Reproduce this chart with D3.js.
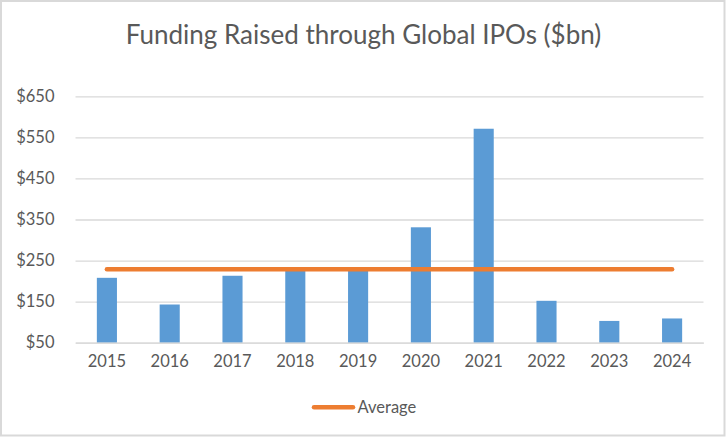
<!DOCTYPE html>
<html>
<head>
<meta charset="utf-8">
<script src="https://cdn.jsdelivr.net/npm/d3@7"></script>
<style>
  html, body { margin: 0; padding: 0; background: #fff; }
  svg { display: block; }
  text { font-family: Lato, "Open Sans", sans-serif; fill: #595959; }
</style>
</head>
<body>
<svg id="chart" width="726" height="437"></svg>
<script>
const title = "Funding Raised through Global IPOs ($bn)";
const years = ["2015","2016","2017","2018","2019","2020","2021","2022","2023","2024"];
const funding = [208, 143, 213, 227, 227, 331, 571, 152, 103, 109];
const average = [229, 229, 229, 229, 229, 229, 229, 229, 229, 229];
const yTicks = [50, 150, 250, 350, 450, 550, 650];
const legendLabel = "Average";

const W = 726, H = 437;
const plot = { left: 75.5, right: 703.5, top: 96.3, bottom: 342.7 };

const svg = d3.select("#chart");

// outer border
svg.append("rect")
  .attr("x", 1).attr("y", 1).attr("width", W - 2.5).attr("height", H - 2.5)
  .attr("fill", "#fff").attr("stroke", "#d9d9d9").attr("stroke-width", 2);

const x = d3.scaleBand().domain(years).range([plot.left, plot.right])
  .paddingInner(0.68).paddingOuter(0.34);
const y = d3.scaleLinear().domain([50, 650]).range([plot.bottom, plot.top]);

// gridlines
const yAxis = d3.axisLeft(y).tickValues(yTicks)
  .tickSize(-(plot.right - plot.left)).tickFormat(d => "$" + d).tickPadding(21);
const gy = svg.append("g").attr("transform", `translate(${plot.left},0)`).call(yAxis);
gy.select(".domain").remove();
gy.selectAll(".tick line").attr("stroke", "#d9d9d9").attr("stroke-width", 1.3);
gy.selectAll(".tick text").attr("font-size", 16.5).style("fill", "#595959")
  .attr("font-family", "Lato, 'Open Sans', sans-serif");

// bars
svg.append("g").selectAll("rect").data(years).join("rect")
  .attr("x", d => x(d))
  .attr("width", x.bandwidth())
  .attr("y", (d, i) => y(funding[i]))
  .attr("height", (d, i) => y(50) - y(funding[i]))
  .attr("fill", "#5b9bd5");

// x axis
const xAxis = d3.axisBottom(x).tickSize(0).tickPadding(13);
const gx = svg.append("g").attr("transform", `translate(0,${plot.bottom})`).call(xAxis);
gx.select(".domain").attr("stroke", "#d9d9d9").attr("stroke-width", 1.3);
gx.selectAll(".tick text").attr("font-size", 16.5).style("fill", "#595959")
  .attr("font-family", "Lato, 'Open Sans', sans-serif");

// average line
const line = d3.line()
  .x((d, i) => x(years[i]) + x.bandwidth() / 2)
  .y(d => y(d));
svg.append("path").datum(average)
  .attr("d", line)
  .attr("fill", "none").attr("stroke", "#ed7d31")
  .attr("stroke-width", 4.5).attr("stroke-linecap", "round");

// title
svg.append("text")
  .attr("x", 363.5).attr("y", 43.5)
  .attr("text-anchor", "middle").attr("font-size", 26)
  .text(title);

// legend
svg.append("line")
  .attr("x1", 314).attr("x2", 353).attr("y1", 407.3).attr("y2", 407.3)
  .attr("stroke", "#ed7d31").attr("stroke-width", 4.5).attr("stroke-linecap", "round");
svg.append("text")
  .attr("x", 357.5).attr("y", 412.7).attr("font-size", 16.5)
  .text(legendLabel);
</script>
</body>
</html>
